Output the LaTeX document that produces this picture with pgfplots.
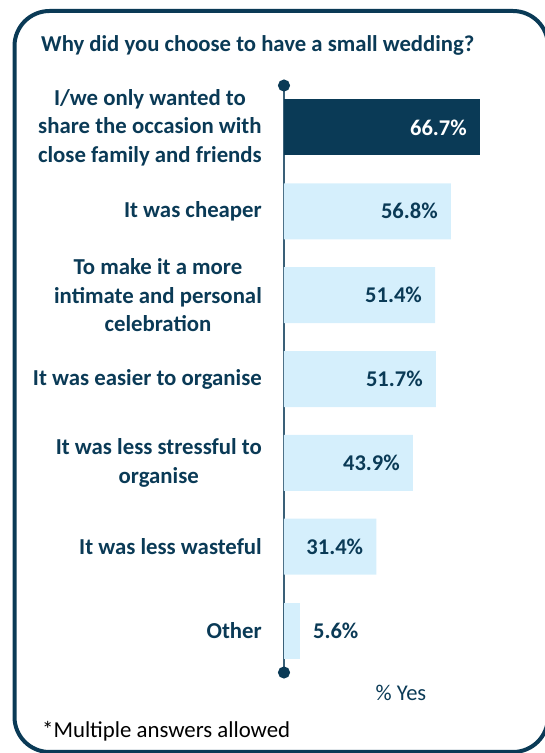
\documentclass[border=0pt]{standalone}
\usepackage{pgfplots}
\pgfplotsset{compat=1.18}
\usetikzlibrary{arrows.meta}
\usepackage{fontspec}
\setmainfont{Carlito}
\definecolor{navy}{HTML}{0A3A56}
\definecolor{lightbar}{HTML}{D5EFFC}
\definecolor{axiscol}{HTML}{3A6078}
\begin{document}
\begin{tikzpicture}
\useasboundingbox (0,0) rectangle (545pt,753pt);
\begin{scope}
\clip (0,0) rectangle (545pt,753pt);
\draw[navy, line width=4pt, rounded corners=35pt] (14.5pt,1pt) rectangle (548pt,742pt);
\end{scope}
\node[anchor=base west, inner sep=0pt, text=navy, font=\bfseries\fontsize{22.7}{27}\selectfont] at (41pt,701pt) {Why did you choose to have a small wedding?};
\node[anchor=center, inner sep=0pt, text=navy, font=\fontsize{22.5}{27}\selectfont] at (401pt,60pt) {\% Yes};
\node[anchor=base west, inner sep=0pt, text=black, font=\fontsize{22.8}{27}\selectfont] at (42pt,16pt) {*Multiple answers allowed};
\begin{axis}[
  at={(284pt,80.5pt)}, anchor=south west,
  scale only axis, width=235.08pt, height=587pt,
  xmin=0, xmax=80, ymin=-0.5, ymax=6.5, y dir=reverse,
  axis lines=left, x axis line style={draw=none}, xtick=\empty,
  ytick={0,1,2,3,4,5,6},
  yticklabels={{I/we only wanted to\\share the occasion with\\close family and friends},
    {It was cheaper},
    {To make it a more\\intimate and personal\\celebration},
    {It was easier to organise},
    {It was less stressful to\\organise},
    {It was less wasteful},
    {Other}},
  major tick length=0pt,
  y axis line style={line width=2pt, draw=axiscol, {Circle[length=12pt,color=navy]}-{Circle[length=12pt,color=navy]}, shorten <=-6pt, shorten >=-6pt},
  yticklabel style={align=center, font=\bfseries\fontsize{22.8}{28.5}\selectfont, text=navy, inner sep=0pt, xshift=-22pt},
  xbar, bar width=56pt, bar shift=0pt,
  clip=false,
  point meta=x,
  nodes near coords={\pgfmathprintnumber[fixed,fixed zerofill,precision=1,assume math mode=true]{\pgfplotspointmeta}\%},
]
\addplot[fill=navy, draw=none, nodes near coords style={anchor=east, xshift=-13pt, inner sep=0pt, text=white, font=\bfseries\fontsize{22.5}{27}\selectfont}] coordinates {(66.7,0)};
\addplot[fill=lightbar, draw=none, nodes near coords style={anchor=east, xshift=-13pt, inner sep=0pt, text=navy, font=\bfseries\fontsize{22.5}{27}\selectfont}] coordinates {(56.8,1) (51.4,2) (51.7,3) (43.9,4) (31.4,5)};
\addplot[fill=lightbar, draw=none, nodes near coords style={anchor=west, xshift=12.5pt, inner sep=0pt, text=navy, font=\bfseries\fontsize{22.5}{27}\selectfont}] coordinates {(5.6,6)};
\end{axis}
\end{tikzpicture}
\end{document}
